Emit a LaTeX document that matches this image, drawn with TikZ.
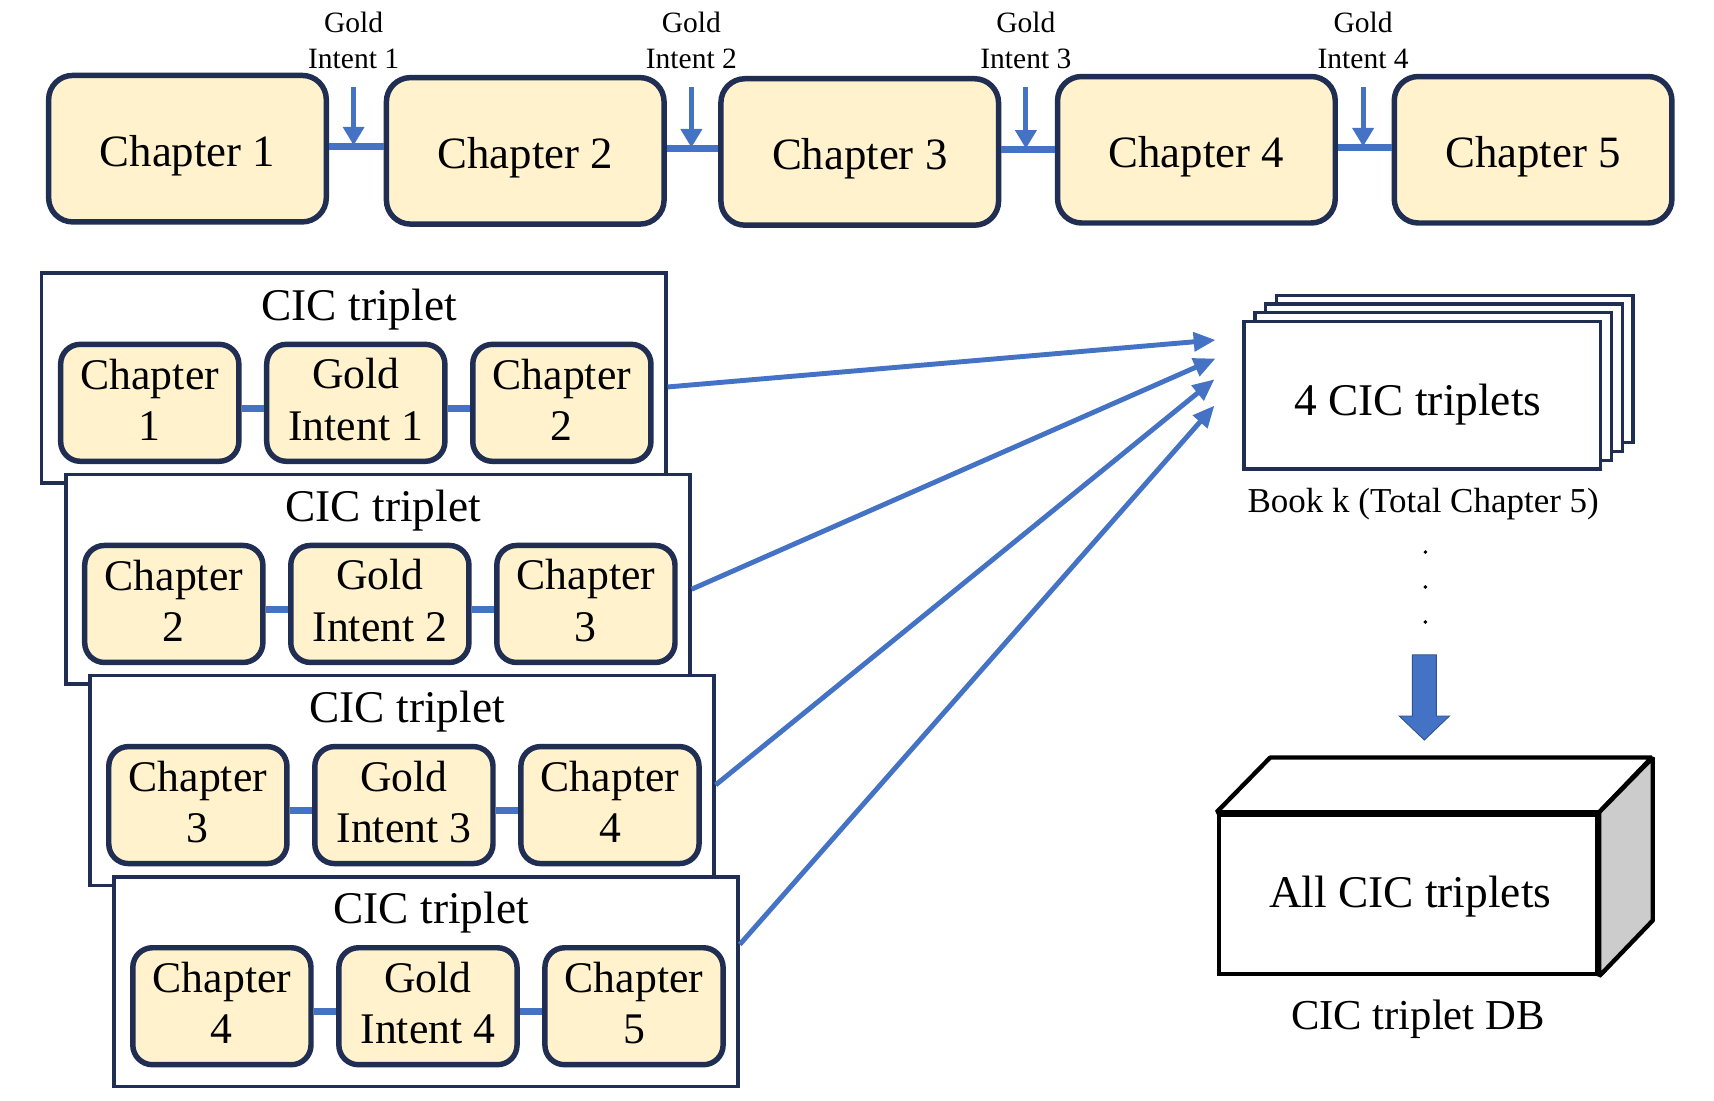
\documentclass[tikz,border=0pt]{standalone}
\usepackage{fontspec}
\setmainfont{Liberation Serif}
\usetikzlibrary{arrows.meta,calc}
\definecolor{navy}{HTML}{1F2E52}
\definecolor{cream}{HTML}{FFF2CC}
\definecolor{myblue}{HTML}{4472C4}
\definecolor{darkblue}{HTML}{2F528F}
\definecolor{sidegray}{HTML}{CCCCCC}
\begin{document}
\begin{tikzpicture}[x=1pt,y=-1pt,
  chapbox/.style={draw=navy,line width=5pt,fill=cream,rounded corners=22pt,minimum width=254pt,minimum height=134pt,inner sep=0pt,text height=38pt,text depth=5pt,font=\fontsize{41}{47}\selectfont},
  ibox/.style={draw=navy,line width=5pt,fill=cream,rounded corners=18pt,minimum width=163pt,minimum height=107pt,inner sep=0pt,align=center,font=\fontsize{40}{47}\selectfont},
  tripframe/.style={draw=navy,line width=3.5pt,fill=white,minimum width=571pt,minimum height=192pt,inner sep=0pt},
  bigtext/.style={font=\fontsize{41.5}{48}\selectfont,inner sep=0pt},
  glabel/.style={align=center,font=\fontsize{27}{33}\selectfont,inner sep=0pt},
  conn/.style={draw=myblue,line width=6pt},
  garrow/.style={draw=myblue,line width=4.5pt,-{Triangle[length=17pt,width=19pt]}},
  bigarrow/.style={draw=myblue,line width=4.5pt,-{Triangle[length=20pt,width=17pt]}},
  stackbox/.style={draw=navy,line width=3pt,fill=white,minimum width=326pt,minimum height=135pt,inner sep=0pt}
]
\useasboundingbox (0,0) rectangle (1568,1007);

% ---- top row
\node[chapbox] (c1) at (171.5,136) {Chapter 1};
\node[chapbox] (c2) at (480.5,138) {Chapter 2};
\node[chapbox] (c3) at (786.5,139) {Chapter 3};
\node[chapbox] (c4) at (1094.5,137) {Chapter 4};
\node[chapbox] (c5) at (1402.5,137) {Chapter 5};

\foreach \i/\j in {1/2,2/3,3/4,4/5}{
  \draw[conn] ([yshift=2pt]c\i.east) -- ([yshift=2pt]c\i.east -| c\j.west);
}

\foreach \i/\gx in {1/323.5,2/632.5,3/938.5,4/1247}{
  \node[glabel] (l\i) at (\gx,37) {Gold\\Intent \i};
  \coordinate (g\i) at (\gx,80);
  \draw[garrow] (g\i) -- ([yshift=3pt]g\i |- c\i.east);
}

% ---- CIC triplet frames
\foreach \k in {1,...,4}{
  \pgfmathtruncatemacro{\n}{\k+1}
  \pgfmathsetmacro{\fx}{323.5+22*(\k-1)}
  \pgfmathsetmacro{\fy}{346+184*(\k-1)}
  \node[tripframe] (f\k) at (\fx,\fy) {};
  \node[bigtext] (t\k) at ($(f\k.center)+(5,-63)$) {CIC triplet};
  \node[ibox] (a\k) at ($(f\k.center)+(-186.5,22.5)$) {};
  \node[ibox] (b\k) at ($(f\k.center)+(2,22.5)$) {};
  \node[ibox] (d\k) at ($(f\k.center)+(190.5,22.5)$) {};
  \node[align=center,inner sep=0pt,font=\fontsize{40}{47}\selectfont] at ($(a\k.center)+(0,-3)$) {Chapter\\\k};
  \node[align=center,inner sep=0pt,font=\fontsize{40}{47}\selectfont] at ($(b\k.center)+(0,-3)$) {Gold\\Intent \k};
  \node[align=center,inner sep=0pt,font=\fontsize{40}{47}\selectfont] at ($(d\k.center)+(0,-3)$) {Chapter\\\n};
  \draw[conn] ([yshift=-5pt]a\k.east) -- ([yshift=-5pt]b\k.west);
  \draw[conn] ([yshift=-5pt]b\k.east) -- ([yshift=-5pt]d\k.west);
}

% ---- stacked pages
\node[stackbox] (s4) at (1331,337.5) {};
\node[stackbox] (s3) at (1321,345.5) {};
\node[stackbox] (s2) at (1311,353.5) {};
\node[stackbox] (s1) at (1301,361.5) {};
\node[bigtext] (st) at (1297,370) {4 CIC triplets};
\node[font=\fontsize{32}{38}\selectfont,inner sep=0pt] (book) at (1302,461) {Book k (Total Chapter 5)};

% ---- arrows to the stack
\coordinate (e1) at (1112,311);
\coordinate (e2) at (1112,328);
\coordinate (e3) at (1111,347);
\coordinate (e4) at (1111,371);
\draw[bigarrow] ([yshift=-8pt]f1.east) -- (e1);
\draw[bigarrow] ([yshift=-9pt]f2.east) -- (e2);
\draw[bigarrow] ([yshift=-4pt]f3.east) -- (e3);
\draw[bigarrow] ([yshift=34pt]f4.east) -- (e4);

% ---- dots
\foreach \dy in {505,537,569}{
  \fill (1304,\dy) circle (1.8pt);
}

% ---- block arrow
\draw[fill=myblue,draw=darkblue,line width=0.8pt]
  (1292,599) -- (1314,599) -- (1314,655) -- (1326,655) -- (1303,677)
  -- (1280,655) -- (1292,655) -- cycle;

% ---- database cube
\node[draw=black,line width=4pt,fill=white,minimum width=346pt,minimum height=146pt,inner sep=0pt] (db) at (1288,818) {};
\draw[line width=4pt,line join=bevel,fill=white] (db.north west) -- ++(49,-50) -- ++(349,0) -- (db.north east) -- cycle;
\draw[line width=4pt,line join=bevel,fill=sidegray] (db.north east) -- ++(49,-50) -- ++(0,149) -- (db.south east) -- cycle;
\node[bigtext] (dbt) at (1290,820) {All CIC triplets};
\node[font=\fontsize{39}{45}\selectfont,inner sep=0pt] (dblabel) at (1297,932) {CIC triplet DB};
\end{tikzpicture}
\end{document}
